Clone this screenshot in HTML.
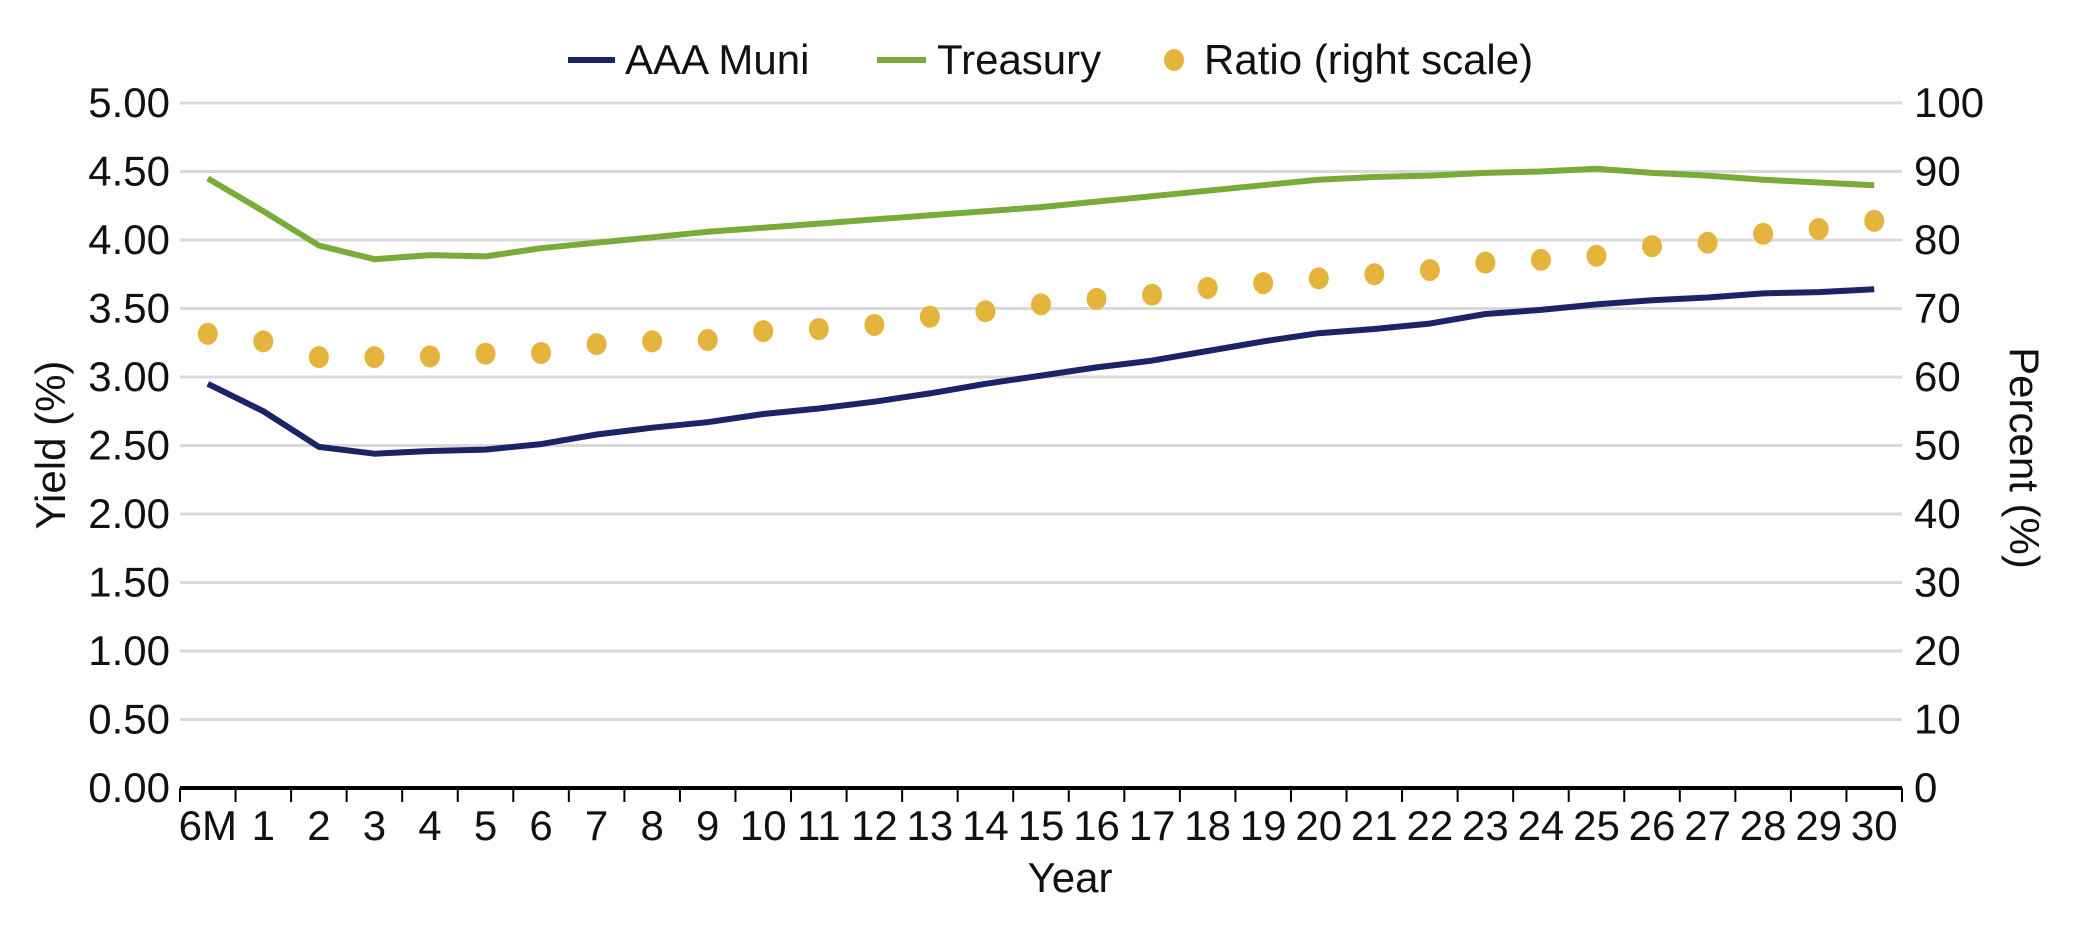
<!DOCTYPE html>
<html><head><meta charset="utf-8">
<style>
body{margin:0;background:#fff;}
svg{display:block;font-family:"Liberation Sans Narrow","Liberation Sans",sans-serif;}
</style></head>
<body>
<svg id="chart" width="2084" height="938" viewBox="0 0 2084 938" xmlns="http://www.w3.org/2000/svg">
<g id="grid"></g>
<g id="yleft"></g>
<g id="yright"></g>
<g id="xaxis"></g>
<g id="series"></g>
<text transform="translate(65,445) rotate(-90)" text-anchor="middle" font-size="42" fill="#111">Yield (%)</text>
<text transform="translate(2010,458) rotate(90)" text-anchor="middle" font-size="42" fill="#111">Percent (%)</text>
<text x="1070" y="892" text-anchor="middle" font-size="42" fill="#111">Year</text>
<g>
  <g>
    <line x1="568" y1="60" x2="615" y2="60" stroke="#1b2466" stroke-width="6"/>
    <text x="625" y="74" font-size="42" fill="#111">AAA Muni</text>
  </g>
  <g>
    <line x1="877" y1="60" x2="926" y2="60" stroke="#77ac39" stroke-width="6"/>
    <text x="937" y="74" font-size="42" fill="#111">Treasury</text>
  </g>
  <g>
    <ellipse cx="1174" cy="60" rx="10" ry="11" fill="#e5b43c"/>
    <text x="1204" y="74" font-size="42" fill="#111">Ratio (right scale)</text>
  </g>
</g>
</svg>
<script>
const categories = ["6M","1","2","3","4","5","6","7","8","9","10","11","12","13","14","15","16","17","18","19","20","21","22","23","24","25","26","27","28","29","30"];
const muniValues = [2.95,2.75,2.49,2.44,2.46,2.47,2.51,2.58,2.63,2.67,2.73,2.77,2.82,2.88,2.95,3.01,3.07,3.12,3.19,3.26,3.32,3.35,3.39,3.46,3.49,3.53,3.56,3.58,3.61,3.62,3.64];
const treasuryValues = [4.45,4.21,3.96,3.86,3.89,3.88,3.94,3.98,4.02,4.06,4.09,4.12,4.15,4.18,4.21,4.24,4.28,4.32,4.36,4.40,4.44,4.46,4.47,4.49,4.50,4.52,4.49,4.47,4.44,4.42,4.40];
const ratioValues = [66.3,65.2,62.9,62.9,63.0,63.4,63.5,64.8,65.2,65.4,66.7,67.0,67.6,68.8,69.6,70.6,71.4,72.0,73.0,73.7,74.4,75.0,75.6,76.7,77.1,77.7,79.1,79.6,80.9,81.6,82.8];
const leftTicks = ["0.00","0.50","1.00","1.50","2.00","2.50","3.00","3.50","4.00","4.50","5.00"];
const rightTicks = ["0","10","20","30","40","50","60","70","80","90","100"];

const NS="http://www.w3.org/2000/svg";
const X0=180, X1=1902, YT=103, YB=788;
const band=(X1-X0)/categories.length;
const xPos=i=>X0+band*(i+0.5);
const yL=v=>YB-(v/5)*(YB-YT);
const yR=v=>YB-(v/100)*(YB-YT);
function mk(tag,attrs,parent){const e=document.createElementNS(NS,tag);for(const k in attrs)e.setAttribute(k,attrs[k]);parent.appendChild(e);return e;}

const grid=document.getElementById('grid'), yl=document.getElementById('yleft'), yr=document.getElementById('yright'), xa=document.getElementById('xaxis'), ser=document.getElementById('series');

leftTicks.forEach((t,i)=>{
  const v=parseFloat(t), y=yL(v);
  if(v>0){const g=mk('line',{x1:X0,x2:X1,y1:y,y2:y,stroke:'#d9d9d9','stroke-width':3},grid);
  
  }
  const tx=mk('text',{x:170,y:y+14,'text-anchor':'end','font-size':42,fill:'#111'},yl);
  tx.textContent=t;
  
  
});
rightTicks.forEach(t=>{
  const y=yR(parseFloat(t));
  const tx=mk('text',{x:1914,y:y+14,'text-anchor':'start','font-size':42,fill:'#111'},yr);
  tx.textContent=t;
  
  
});
const ax=mk('line',{x1:X0,x2:X1,y1:YB,y2:YB,stroke:'#000','stroke-width':4},xa);


for(let i=0;i<=categories.length;i++){
  const x=X0+band*i;
  const tk=mk('line',{x1:x,x2:x,y1:YB,y2:YB+14,stroke:'#000','stroke-width':2},xa);
  
  
}
categories.forEach((c,i)=>{
  const tx=mk('text',{x:xPos(i),y:840,'text-anchor':'middle','font-size':42,fill:'#111'},xa);
  tx.textContent=c;
  
  
});
function line(vals,color,name){
  const pts=vals.map((v,i)=>xPos(i).toFixed(1)+','+yL(v).toFixed(1)).join(' ');
  const p=mk('polyline',{points:pts,fill:'none',stroke:color,'stroke-width':6,'stroke-linejoin':'round'},ser);
  
  
}
line(treasuryValues,'#77ac39','treasury-line');
line(muniValues,'#1b2466','aaa-muni-line');
ratioValues.forEach((v,i)=>{
  const d=mk('ellipse',{cx:xPos(i),cy:yR(v),rx:10,ry:11,fill:'#e5b43c'},ser);
  
  
});
</script>
</body></html>
